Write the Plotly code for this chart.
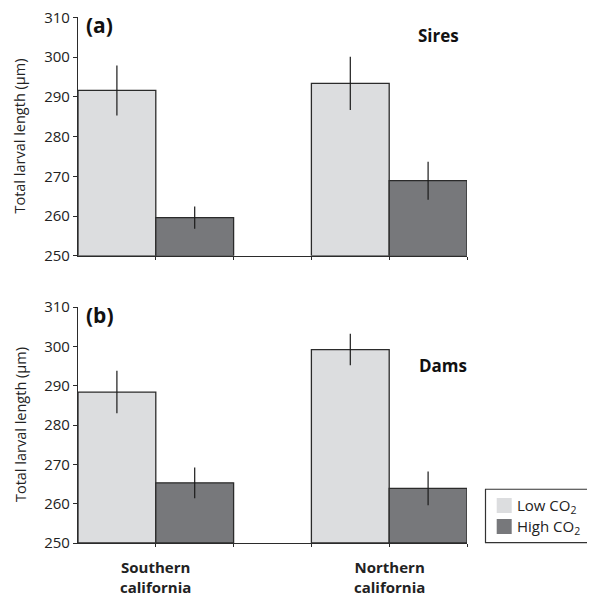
import plotly.graph_objects as go

# ---- data ----
regions = ["Southern california", "Northern california"]
region_pos = [1, 4]
treatments = ["Low CO<sub>2</sub>", "High CO<sub>2</sub>"]

sires_low = [291.6, 293.4]
sires_low_err = [6.3, 6.7]
sires_high = [259.6, 268.9]
sires_high_err = [2.8, 4.8]

dams_low = [288.4, 299.2]
dams_low_err = [5.4, 4.0]
dams_high = [265.3, 263.9]
dams_high_err = [3.9, 4.3]

y_ticks = [250, 260, 270, 280, 290, 300, 310]
boundary_ticks = [1, 2, 3, 4, 5]

# page body has an 8px margin; lay the figure out in screen pixels minus that offset
OFF = 8
W, H = 595 - OFF, 597 - OFF
ML = 78 - OFF
MT = 17 - OFF
MR = W - (467 - OFF)
MB = H - (543.3 - OFF)
PW, PH = W - ML - MR, H - MT - MB
FONT = "Open Sans"
LOW_COLOR = "#dcdddf"
HIGH_COLOR = "#77787b"
EDGE = "#2b2b2b"
colors = [LOW_COLOR, HIGH_COLOR]

def fx(p):  # screen px -> paper x
    return (p - OFF - ML) / PW

def fy(p):  # screen px -> paper y
    return (H - MB - (p - OFF)) / PH

fig = go.Figure()

def add_pair(low, low_err, high, high_err, xa, ya):
    for name, vals, errs, col in [(treatments[0], low, low_err, colors[0]),
                                  (treatments[1], high, high_err, colors[1])]:
        fig.add_trace(go.Bar(
            x=region_pos, y=[v - 250 for v in vals], base=250,
            name=name, showlegend=False,
            marker=dict(color=col, line=dict(color=EDGE, width=1.3)),
            error_y=dict(type="data", array=errs, width=0, thickness=1.2, color="#1a1a1a"),
            xaxis=xa, yaxis=ya,
        ))

add_pair(sires_low, sires_low_err, sires_high, sires_high_err, "x", "y")
add_pair(dams_low, dams_low_err, dams_high, dams_high_err, "x2", "y2")

xdom = [0, 1]
top_dom = [fy(256), min(1, fy(17.3))]
bot_dom = [max(0, fy(543.3)), fy(307.3)]

xaxis_common = dict(range=[0, 5], showline=True, linecolor=EDGE, linewidth=1.2,
                    tickvals=boundary_ticks, ticks="outside", ticklen=3, tickcolor=EDGE,
                    showticklabels=False, showgrid=False, zeroline=False, fixedrange=True,
                    automargin=False)
yaxis_common = dict(range=[250, 310], tickvals=y_ticks, showline=True, linecolor=EDGE,
                    linewidth=1.2, ticks="outside", ticklen=4, tickcolor=EDGE,
                    tickfont=dict(family=FONT, size=15, color="#222"),
                    ticklabeloverflow="allow",
                    showgrid=False, zeroline=False, fixedrange=True, automargin=False)

fig.update_layout(
    width=W, height=H,
    margin=dict(l=ML, r=MR, t=MT, b=MB, autoexpand=False),
    paper_bgcolor="white", plot_bgcolor="white",
    barmode="group", bargap=1/3, bargroupgap=0,
    xaxis=dict(domain=xdom, anchor="y", **xaxis_common),
    yaxis=dict(domain=top_dom, anchor="x", **yaxis_common),
    xaxis2=dict(domain=xdom, anchor="y2", **xaxis_common),
    yaxis2=dict(domain=bot_dom, anchor="x2", **yaxis_common),
    font=dict(family=FONT, color="#222"),
    showlegend=False,
)

annotations = []
for dom in (top_dom, bot_dom):
    annotations.append(dict(text="Total larval length (μm)", textangle=-90,
                            x=fx(20), y=(dom[0] + dom[1]) / 2, xref="paper", yref="paper",
                            showarrow=False, font=dict(family=FONT, size=14.5, color="#222"),
                            xanchor="center", yanchor="middle"))
annotations.append(dict(text="<b>(a)</b>", x=fx(84), y=fy(25), xref="paper", yref="paper",
                        showarrow=False, xanchor="left", yanchor="middle",
                        font=dict(family=FONT, size=21, color="#111")))
annotations.append(dict(text="<b>(b)</b>", x=fx(84), y=fy(315), xref="paper", yref="paper",
                        showarrow=False, xanchor="left", yanchor="middle",
                        font=dict(family=FONT, size=21, color="#111")))
annotations.append(dict(text="<b>Sires</b>", x=fx(438), y=fy(36), xref="paper", yref="paper",
                        showarrow=False, xanchor="center", yanchor="middle",
                        font=dict(family=FONT, size=17, color="#111")))
annotations.append(dict(text="<b>Dams</b>", x=fx(443), y=fy(366), xref="paper", yref="paper",
                        showarrow=False, xanchor="center", yanchor="middle",
                        font=dict(family=FONT, size=17, color="#111")))
for pos, name in zip(region_pos, regions):
    first, second = name.split(" ")
    annotations.append(dict(text=f"<b>{first}</b><br><b>{second}</b>", x=pos, xref="x2",
                            y=fy(577), yref="paper", showarrow=False,
                            xanchor="center", yanchor="middle",
                            font=dict(family=FONT, size=15, color="#222")))

# legend (drawn manually to match the boxed key)
shapes = [dict(type="rect", xref="paper", yref="paper",
               x0=fx(485.5), x1=fx(605), y0=fy(543), y1=fy(489.5),
               line=dict(color="#333", width=1.2), fillcolor="white", layer="above")]
for i, (name, col) in enumerate(zip(treatments, colors)):
    top = 498.3 + i * 21
    shapes.append(dict(type="rect", xref="paper", yref="paper",
                       x0=fx(496.7), x1=fx(511.7), y0=fy(top + 15), y1=fy(top),
                       line=dict(width=0), fillcolor=col, layer="above"))
    annotations.append(dict(text=name, x=fx(515), y=fy(top + 7.5), xref="paper", yref="paper",
                            showarrow=False, xanchor="left", yanchor="middle",
                            font=dict(family=FONT, size=15, color="#222")))

fig.update_layout(annotations=annotations, shapes=shapes)

fig.write_html("out.html")
